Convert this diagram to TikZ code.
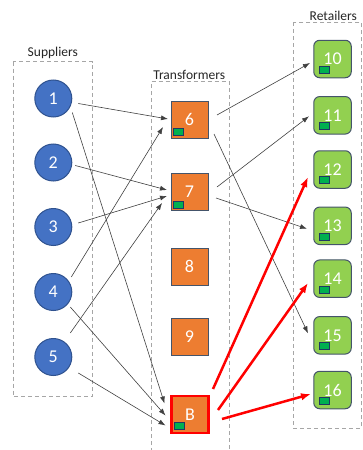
\documentclass[tikz,border=0pt]{standalone}
\usepackage{fontspec}
\setmainfont{Carlito}
\usetikzlibrary{arrows.meta}
\definecolor{supblue}{HTML}{4472C4}
\definecolor{supborder}{HTML}{2F528F}
\definecolor{trforange}{HTML}{ED7D31}
\definecolor{slate}{HTML}{44546A}
\definecolor{retgreen}{HTML}{92D050}
\definecolor{taggreen}{HTML}{00B050}
\definecolor{tagborder}{HTML}{1F3864}
\definecolor{grpgray}{HTML}{A6A6A6}
\begin{document}
\begin{tikzpicture}[x=1pt,y=-1pt,
  sup/.style={circle, fill=supblue, draw=supborder, line width=1pt, minimum size=37pt, inner sep=0pt, text=white, font=\fontsize{18}{18}\selectfont},
  trf/.style={rectangle, fill=trforange, draw=slate, line width=1pt, minimum size=37pt, inner sep=0pt, text=white, font=\fontsize{18}{18}\selectfont},
  trfred/.style={trf, draw=red, line width=2.5pt},
  ret/.style={rectangle, rounded corners=6pt, fill=retgreen, draw=slate, line width=1pt, minimum size=37.5pt, inner sep=0pt, text=white, font=\fontsize{18}{18}\selectfont},
  tag/.style={rectangle, fill=taggreen, draw=tagborder, line width=0.8pt, minimum width=10pt, minimum height=7pt, inner sep=0pt},
  grp/.style={draw=grpgray, line width=0.8pt, dash pattern=on 4pt off 3pt},
  grplabel/.style={anchor=base, font=\fontsize{13.5}{14}\selectfont, text=black!85},
  arr/.style={-{Latex[length=7pt,width=5pt]}, line width=0.6pt, draw=black!75},
  redarr/.style={-{Latex[length=10pt,width=7.5pt]}, line width=2.5pt, draw=red}
]
\useasboundingbox (0,0) rectangle (363,450);

% group boxes
\draw[grp] (13,61.5) rectangle (92.3,396.5);
\draw[grp] (151,452) -- (151,81.7) -- (229.3,81.7) -- (229.3,452);
\draw[grp] (293.3,22) rectangle (361,428.3);

% group labels
\node[grplabel] (lsup) at (52.8,56.7) {Suppliers};
\node[grplabel] (ltrf) at (189.2,79.2) {Transformers};
\node[grplabel] (lret) at (333.3,20) {Retailers};

% suppliers
\node[sup] (s1) at (53.3,98.5) {1};
\node[sup] (s2) at (53.3,162.5) {2};
\node[sup] (s3) at (53.3,227) {3};
\node[sup] (s4) at (53.3,292) {4};
\node[sup] (s5) at (53.3,357) {5};

% transformers
\node[trf] (t6) at (189.5,119.5) {6};
\node[trf] (t7) at (189.5,192) {7};
\node[trf] (t8) at (189.5,266.5) {8};
\node[trf] (t9) at (189.5,337) {9};
\node[trfred] (tB) at (190,414.5) {B};

% retailers
\node[ret] (r10) at (332.5,59) {10};
\node[ret] (r11) at (332.5,115.3) {11};
\node[ret] (r12) at (332.5,169.5) {12};
\node[ret] (r13) at (332.5,225.8) {13};
\node[ret] (r14) at (332.5,278.7) {14};
\node[ret] (r15) at (332.5,335.3) {15};
\node[ret] (r16) at (332.5,390) {16};

% tags
\node[tag] (g6) at ([shift={(-10.9,12.7)}]t6.center) {};
\node[tag] (g7) at ([shift={(-10.9,12.7)}]t7.center) {};
\node[tag] (gB) at ([shift={(-10.8,11)}]tB.center) {};
\foreach \r in {10,11,12,13,14,15,16}{
  \node[tag] (g\r) at ([shift={(-7.9,10.7)}]r\r.center) {};
}

% supplier -> transformer
\draw[arr] ([shift={(25,5)}]s1.center) -- ([shift={(-21.5,-0.5)}]t6.center);
\draw[arr] ([shift={(19,14)}]s1.center) -- ([shift={(-25.5,-11)}]tB.center);
\draw[arr] ([shift={(22,3)}]s2.center) -- ([shift={(-22.5,-2)}]t7.center);
\draw[arr] ([shift={(25,-4)}]s3.center) -- ([shift={(-22.5,4)}]t7.center);
\draw[arr] ([shift={(18,-15)}]s4.center) -- ([shift={(-26.5,7.5)}]t6.center);
\draw[arr] ([shift={(17,15)}]s4.center) -- ([shift={(-24.5,1)}]tB.center);
\draw[arr] ([shift={(17,-24)}]s5.center) -- ([shift={(-27.5,11)}]t7.center);
\draw[arr] ([shift={(25,16)}]s5.center) -- ([shift={(-24.5,11)}]tB.center);

% transformer -> retailer
\draw[arr] ([shift={(27.5,-4.5)}]t6.center) -- ([shift={(-22.5,4)}]r10.center);
\draw[arr] ([shift={(24.5,14.5)}]t6.center) -- ([shift={(-24.5,-2)}]r15.center);
\draw[arr] ([shift={(27.5,-5)}]t7.center) -- ([shift={(-23.5,1)}]r11.center);
\draw[arr] ([shift={(26.5,6)}]t7.center) -- ([shift={(-25.5,3)}]r13.center);

% highlighted
\draw[redarr] ([shift={(23,-25.5)}]tB.center) -- ([shift={(-24.5,7.5)}]r12.center);
\draw[redarr] ([shift={(28,-4.5)}]tB.center) -- ([shift={(-24.5,4.3)}]r14.center);
\draw[redarr] ([shift={(32,4.5)}]tB.center) -- ([shift={(-21.5,4)}]r16.center);
\end{tikzpicture}
\end{document}
